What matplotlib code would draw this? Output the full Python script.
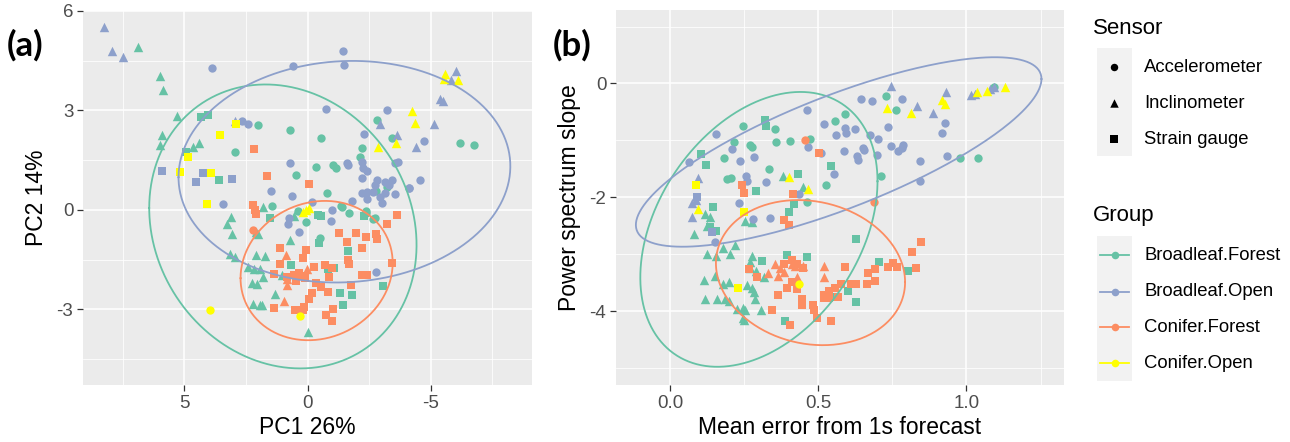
import matplotlib.pyplot as plt
import numpy as np

plt.rcParams['font.family'] = ['Liberation Sans', 'DejaVu Sans']
plt.rcParams['axes.unicode_minus'] = False

groups = ["Broadleaf.Forest", "Broadleaf.Open", "Conifer.Forest", "Conifer.Open"]
group_colors = ["#66C2A5", "#8DA0CB", "#FC8D62", "#FFFF00"]
sensors = ["Accelerometer", "Inclinometer", "Strain gauge"]
sensor_markers = ["o", "^", "s"]
sensor_sizes = [36, 46, 32]

# ---- panel (a): PCA scores ----
a_bf_acc = [(2.03, 2.57), (0.7, 2.42), (2.94, 1.75), (0.45, 1.06), (-2.82, 2.7), (-3.43, 2.17),
            (-0.55, 2.17), (-2.21, 1.85), (-2.14, 1.6), (-1.05, 1.35), (-1.14, 1.25), (-0.33, 1.28),
            (-6.2, 2.02), (-6.77, 1.95), (-3.23, 0.7), (-0.78, 0.5), (1.45, 0.13), (0.07, -0.38),
            (-1.4, 0.1), (-2.38, -0.02), (-2.73, -0.25), (-0.5, -0.85), (-1.69, -0.1), (-2.36, -0.08),
            (-2.66, -0.27), (-3.27, 0.76), (-2.8, 0.57), (0.39, -0.02), (-1.35, 0.12)]
a_bf_inc = [(6.88, 4.9), (5.98, 4.05), (5.85, 3.62), (5.31, 2.82), (5.91, 2.25), (5.99, 1.95),
            (4.4, 2.02), (4.64, 1.9), (1.8, 0.1), (3.09, -0.23), (3.29, -0.43), (3.05, -0.74),
            (2.08, -0.68), (2.0, -0.74), (3.16, -1.34), (2.96, -1.41), (2.11, -1.36), (1.71, -1.39),
            (2.41, -1.72), (2.18, -1.77), (1.91, -1.77), (1.81, -2.02), (2.24, -2.19), (2.07, -2.25),
            (2.2, -2.83), (1.94, -2.86), (1.84, -2.88), (1.3, -2.53), (0.7, -0.91), (1.03, -1.97),
            (0.0, -3.67), (0.55, -0.2)]
a_bf_str = [(4.33, 2.8), (4.03, 2.85), (4.92, 1.75), (3.59, 0.9), (1.53, -0.25), (0.67, -1.67),
            (-0.41, -0.17), (-0.54, -0.2), (-2.3, -0.2), (-0.47, -1.01), (-1.66, -1.24), (-0.85, -1.79),
            (-1.08, -1.75), (-3.07, -2.3), (-1.32, -2.5), (-1.8, -2.56), (-1.45, -2.86)]
a_bo_acc = [(3.88, 4.27), (0.59, 4.35), (-1.46, 4.78), (-1.48, 4.38), (2.65, 2.67), (2.42, 2.6),
            (0.73, 1.4), (1.48, 0.57), (0.62, 0.43), (-0.75, 3.05), (-3.23, 3.02), (-2.28, 2.28),
            (-4.73, 2.07), (-3.57, 1.42), (-1.6, 1.4), (-1.66, 1.35), (-2.21, 1.45), (-2.27, 1.25),
            (-2.41, 1.17), (-2.21, 0.95), (-2.82, 0.9), (-2.75, 0.75), (-3.16, 0.85), (-4.59, 0.9),
            (-3.43, 0.9), (-3.3, 0.75), (-4.11, 0.65), (-2.21, 0.52), (-2.41, 0.55), (-2.68, 0.55),
            (-2.96, 0.4), (-3.16, 0.5), (-3.57, 0.48), (-4.13, 0.66), (-3.66, 1.43), (-1.82, 0.27),
            (-0.17, 0.23), (-1.0, 0.0), (-0.94, -0.35), (0.74, -0.25), (0.78, -0.42), (0.36, -0.66),
            (-2.78, -1.87), (3.43, 0.17), (-3.03, 0.2), (-2.41, 0.32)]
a_bo_inc = [(8.25, 5.5), (7.93, 4.78), (7.49, 4.6), (2.96, 2.67), (-6.02, 4.2), (-5.82, 3.9),
            (-5.37, 3.35), (-5.5, 3.28), (-5.14, 2.6), (-2.96, 2.6), (-3.64, 2.25), (-4.41, 1.9)]
a_bo_str = [(5.91, 1.16), (4.26, 1.1), (4.53, 0.85), (3.06, 0.94)]
a_cf_acc = [(2.2, -0.6)]
a_cf_inc = [(0.86, -1.36), (0.83, -2.27), (0.97, -2.76), (0.84, -2.07), (0.04, -1.77)]
a_cf_str = [(2.16, 1.83), (1.64, 1.03), (-0.08, 0.78), (2.22, 0.15), (2.15, 0.0), (2.11, -0.13),
            (1.13, -1.14), (1.37, -1.92), (0.83, -2.02), (0.56, -1.97), (0.46, -2.15), (1.37, -2.96),
            (0.5, -3.03), (-3.65, -0.15), (-3.24, -0.43), (-1.28, -0.71), (-1.96, -0.69), (-2.39, -0.81),
            (-2.77, -0.74), (-2.84, -0.88), (-1.62, -0.96), (0.07, -1.21), (0.2, -1.46), (-2.23, -1.16),
            (-1.66, -1.52), (-1.69, -1.64), (-3.42, -1.59), (-0.27, -1.72), (-0.72, -1.67), (-1.01, -1.75),
            (-2.23, -1.95), (-2.43, -1.95), (0.34, -1.89), (0.47, -2.07), (-0.88, -2.02), (-0.34, -2.22),
            (-0.54, -2.32), (-1.76, -2.27), (-0.2, -2.5), (-0.07, -2.68), (-0.85, -2.49), (0.14, -2.93),
            (0.2, -3.03), (-0.74, -3.18), (-0.99, -3.36), (-1.04, -2.98), (1.12, -1.62), (0.25, -2.0),
            (0.1, -2.05)]
a_co_acc = [(3.95, -3.03), (0.31, -3.2)]
a_co_inc = [(-5.57, 4.1), (-5.54, 3.95), (-6.13, 3.92), (-4.25, 2.98), (-4.35, 2.62), (-3.6, 2.02),
            (-2.86, 1.9), (0.07, 0.0), (0.2, -0.05), (-0.05, 0.05)]
a_co_str = [(2.92, 2.6), (3.56, 2.25), (4.87, 1.6), (5.17, 1.15), (3.9, 1.1), (4.1, 0.18)]

# ellipse parameters per group (Broadleaf.Forest, Broadleaf.Open, Conifer.Forest)
a_ell_cx = [1.0, -1.5, -0.37]
a_ell_cy = [-0.5, 1.15, -1.83]
a_ell_ax = [5.43, 6.74, 3.09]
a_ell_ay = [4.28, 3.34, 2.1]
a_ell_rho = [0.13, -0.05, -0.11]

# ---- panel (b): mean error vs power spectrum slope ----
b_bf_acc = [(0.245, -0.74), (0.355, -0.81), (0.217, -1.03), (0.27, -1.09), (0.278, -1.12),
            (0.357, -1.03), (0.405, -1.01), (0.473, -0.97), (0.182, -1.31), (0.334, -1.5),
            (0.194, -1.68), (0.205, -1.66), (0.527, -1.78), (0.462, -2.09), (0.727, -0.22),
            (0.764, -0.46), (0.591, -0.54), (0.557, -0.66), (0.977, -1.31), (1.04, -1.31),
            (0.713, -1.62), (1.093, -0.07)]
b_bf_inc = [(0.38, -1.62), (0.448, -1.82), (0.118, -2.29), (0.135, -2.35), (0.082, -2.65),
            (0.124, -2.99), (0.155, -3.03), (0.18, -2.89), (0.22, -2.84), (0.203, -2.99),
            (0.276, -3.03), (0.27, -3.13), (0.115, -3.45), (0.152, -3.38), (0.198, -3.49),
            (0.18, -3.53), (0.118, -3.79), (0.158, -3.79), (0.186, -3.78), (0.198, -3.82),
            (0.259, -3.55), (0.276, -3.6), (0.282, -3.67), (0.287, -3.78), (0.225, -3.96),
            (0.245, -3.95), (0.253, -3.99), (0.245, -4.12), (0.25, -4.15), (0.306, -3.98),
            (0.27, -3.24), (0.29, -3.3), (0.318, -3.41), (0.253, -2.42), (0.276, -2.44),
            (0.124, -2.5)]
b_bf_str = [(0.321, -0.65), (0.324, -0.74), (0.105, -1.24), (0.122, -1.43), (0.431, -1.6),
            (0.289, -1.89), (0.42, -2.12), (0.403, -2.26), (0.146, -2.18), (0.544, -1.46),
            (0.135, -2.53), (0.31, -3.12), (0.394, -3.01), (0.462, -3.05), (0.626, -2.74),
            (0.704, -3.13), (0.803, -3.29), (0.6, -3.64), (0.55, -3.76), (0.628, -3.85),
            (0.389, -4.18), (0.155, -2.6)]
b_bo_acc = [(0.064, -1.38), (0.155, -0.89), (0.208, -1.16), (0.236, -1.36), (0.284, -1.29),
            (0.256, -1.62), (0.261, -1.71), (0.323, -1.74), (0.234, -2.11), (0.279, -2.38),
            (0.338, -2.37), (0.434, -1.95), (0.462, -0.46), (0.521, -0.71), (0.467, -1.12),
            (0.152, -2.79), (0.645, -0.28), (0.682, -0.31), (0.783, -0.28), (0.927, -0.69),
            (0.918, -0.87), (0.735, -0.76), (0.56, -0.91), (0.589, -0.78), (0.595, -0.88),
            (0.623, -0.81), (0.673, -0.91), (0.701, -0.97), (0.587, -1.18), (0.651, -1.13),
            (0.655, -1.17), (0.698, -1.26), (0.632, -1.28), (0.634, -1.35), (0.744, -1.1),
            (0.769, -1.19), (0.783, -1.13), (0.787, -1.09), (0.842, -1.36), (0.936, -1.28),
            (0.845, -1.72), (0.553, -1.6), (0.51, -1.23)]
b_bo_inc = [(0.747, -0.05), (0.833, -0.39), (0.887, -0.52), (0.93, -0.15), (1.015, -0.21),
            (1.08, -0.09), (1.094, -0.06), (0.096, -1.66), (0.073, -2.11), (0.088, -2.05),
            (0.073, -2.35), (1.03, -0.18)]
b_bo_str = [(0.141, -2.61), (0.09, -2.0)]
b_cf_acc = [(0.456, -1.0), (0.687, -2.08)]
b_cf_inc = [(0.33, -3.34), (0.353, -3.18), (0.37, -3.24), (0.366, -3.38), (0.386, -3.32),
            (0.411, -3.18), (0.422, -3.21), (0.448, -3.21), (0.518, -3.4), (0.521, -3.21),
            (0.43, -3.4)]
b_cf_str = [(0.501, -1.22), (0.242, -1.79), (0.251, -1.93), (0.414, -1.94), (0.385, -2.4),
            (0.4, -2.49), (0.268, -3.27), (0.293, -3.41), (0.383, -3.18), (0.411, -3.11),
            (0.428, -3.18), (0.45, -3.24), (0.394, -3.6), (0.411, -3.49), (0.428, -3.62),
            (0.366, -3.72), (0.343, -3.99), (0.445, -3.78), (0.445, -3.9), (0.482, -3.89),
            (0.487, -3.99), (0.496, -4.12), (0.518, -3.77), (0.535, -3.77), (0.405, -4.24),
            (0.848, -2.79), (0.818, -2.97), (0.589, -3.22), (0.735, -3.22), (0.752, -3.16),
            (0.767, -3.22), (0.829, -3.24), (0.668, -3.34), (0.69, -3.26), (0.666, -3.52),
            (0.693, -3.48), (0.628, -3.52), (0.611, -3.53), (0.578, -3.53), (0.555, -3.59),
            (0.538, -3.65), (0.521, -3.71), (0.533, -3.76), (0.567, -3.76), (0.542, -4.18)]
b_co_acc = [(0.434, -3.53)]
b_co_inc = [(0.402, -1.65), (0.464, -1.85), (0.096, -2.21), (0.733, -0.43), (0.814, -0.52),
            (0.918, -0.29), (0.929, -0.36), (1.036, -0.15), (1.07, -0.13), (1.13, -0.06)]
b_co_str = [(0.088, -1.78), (0.25, -2.26), (0.229, -3.6)]

b_ell_cx = [0.30, 0.569, 0.474]
b_ell_cy = [-2.565, -1.205, -3.325]
b_ell_ax = [0.40, 0.684, 0.319]
b_ell_ay = [2.415, 1.665, 1.275]
b_ell_rho = [0.35, 0.77, -0.13]

panel_a = [[a_bf_acc, a_bf_inc, a_bf_str], [a_bo_acc, a_bo_inc, a_bo_str],
           [a_cf_acc, a_cf_inc, a_cf_str], [a_co_acc, a_co_inc, a_co_str]]
panel_b = [[b_bf_acc, b_bf_inc, b_bf_str], [b_bo_acc, b_bo_inc, b_bo_str],
           [b_cf_acc, b_cf_inc, b_cf_str], [b_co_acc, b_co_inc, b_co_str]]


def style_axes(ax):
    ax.set_facecolor('#EBEBEB')
    for s in ax.spines.values():
        s.set_visible(False)
    ax.set_axisbelow(True)
    ax.grid(True, which='major', color='white', lw=1.1)
    ax.grid(True, which='minor', color='white', lw=0.55)
    ax.tick_params(which='major', length=4, width=0.9, color='#333333',
                   labelcolor='#4D4D4D', labelsize=13.5, pad=3)
    ax.tick_params(which='minor', length=0)


def draw_panel(ax, data, cx, cy, axl, ayl, rho):
    for gi, per_sensor in enumerate(data):
        for si, pts in enumerate(per_sensor):
            if not pts:
                continue
            xs, ys = zip(*pts)
            ax.scatter(xs, ys, marker=sensor_markers[si], s=sensor_sizes[si],
                       color=group_colors[gi], linewidths=0, zorder=3)
    t = np.linspace(0, 2 * np.pi, 300)
    for gi in range(len(cx)):
        ex = cx[gi] + axl[gi] * np.cos(t)
        ey = cy[gi] + ayl[gi] * (rho[gi] * np.cos(t) + np.sqrt(1 - rho[gi] ** 2) * np.sin(t))
        ax.plot(ex, ey, color=group_colors[gi], lw=1.3, zorder=4)


fig = plt.figure(figsize=(12.9, 4.42), dpi=100)

ax1 = fig.add_axes([83 / 1290, 1 - 385 / 442, 449 / 1290, 374.5 / 442])
style_axes(ax1)
draw_panel(ax1, panel_a, a_ell_cx, a_ell_cy, a_ell_ax, a_ell_ay, a_ell_rho)
ax1.set_xlim(9.12, -9.12)
ax1.set_ylim(-5.28, 6.01)
ax1.set_xticks([5, 0, -5])
ax1.set_xticklabels(["5", "0", "-5"])
ax1.set_xticks([7.5, 2.5, -2.5, -7.5], minor=True)
ax1.set_yticks([-3, 0, 3, 6])
ax1.set_yticklabels(["-3", "0", "3", "6"])
ax1.set_yticks([-4.5, -1.5, 1.5, 4.5], minor=True)
ax1.set_xlabel("PC1 26%", fontsize=16.5)
ax1.set_ylabel("PC2 14%", fontsize=16.5)
ax1.xaxis.set_label_coords(0.5, -0.083)
ax1.yaxis.set_label_coords(-0.078, 0.5)

ax2 = fig.add_axes([616 / 1290, 1 - 385 / 442, 448 / 1290, 375 / 442])
style_axes(ax2)
draw_panel(ax2, panel_b, b_ell_cx, b_ell_cy, b_ell_ax, b_ell_ay, b_ell_rho)
ax2.set_xlim(-0.182, 1.329)
ax2.set_ylim(-5.3, 1.29)
ax2.set_xticks([0.0, 0.5, 1.0])
ax2.set_xticklabels(["0.0", "0.5", "1.0"])
ax2.set_xticks([0.25, 0.75, 1.25], minor=True)
ax2.set_yticks([-4, -2, 0])
ax2.set_yticklabels(["-4", "-2", "0"])
ax2.set_yticks([-5, -3, -1, 1], minor=True)
ax2.set_xlabel("Mean error from 1s forecast", fontsize=16.5)
ax2.set_ylabel("Power spectrum slope", fontsize=16.5)
ax2.xaxis.set_label_coords(0.5, -0.083)
ax2.yaxis.set_label_coords(-0.078, 0.5)

# panel letters and legends, placed in pixel coordinates
lax = fig.add_axes([0, 0, 1, 1])
lax.set_xlim(0, 1290)
lax.set_ylim(442, 0)
lax.axis('off')
lax.text(7, 45, "(a)", fontsize=25, fontweight='bold', va='center', ha='left',
         family=['Lato', 'DejaVu Sans'])
lax.text(553, 45, "(b)", fontsize=25, fontweight='bold', va='center', ha='left',
         family=['Lato', 'DejaVu Sans'])

lax.text(1093, 28, "Sensor", fontsize=16, va='center', ha='left', color='black')
lax.add_patch(plt.Rectangle((1097, 48), 35, 108, color='#F2F2F2', lw=0))
sensor_y = [67, 103, 139]
for si, name in enumerate(sensors):
    lax.scatter([1114], [sensor_y[si]], marker=sensor_markers[si], s=sensor_sizes[si] * 0.8,
                color='black', linewidths=0)
    lax.text(1144, sensor_y[si], name, fontsize=13.3, va='center', ha='left', color='black')

lax.text(1093, 215, "Group", fontsize=16, va='center', ha='left', color='black')
lax.add_patch(plt.Rectangle((1097, 236), 35, 145, color='#F2F2F2', lw=0))
group_y = [255, 292, 327, 363]
for gi, name in enumerate(groups):
    lax.plot([1100, 1129], [group_y[gi]] * 2, color=group_colors[gi], lw=1.3)
    lax.scatter([1114.5], [group_y[gi]], marker='o', s=30, color=group_colors[gi], linewidths=0)
    lax.text(1144, group_y[gi], name, fontsize=13.3, va='center', ha='left', color='black')

fig.savefig("out.png", dpi=100)
